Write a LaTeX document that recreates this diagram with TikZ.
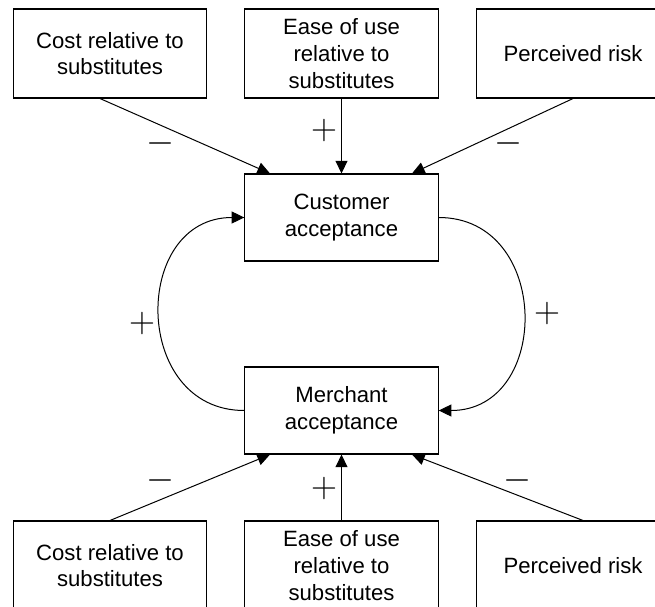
\documentclass[tikz,border=0pt]{standalone}
\usepackage{fix-cm}
\usepackage{fontspec}
\setmainfont{Liberation Sans}
\usetikzlibrary{arrows.meta,calc}
\begin{document}
\begin{tikzpicture}[x=0.75pt,y=-0.75pt,
  box/.style={draw,line width=0.8pt,minimum width=145pt,minimum height=66.75pt,
    align=center,inner sep=0pt,font=\fontsize{16.6}{20}\selectfont},
  midbox/.style={box,minimum height=65.25pt},
  link/.style={line width=0.75pt,-{Triangle[length=9.5pt,width=9pt]}},
  sign/.style={font=\fontsize{27}{27}\selectfont,inner sep=0pt}]
\clip (0,0) rectangle (655,606);
% top row
\node[box] (tl) at (110,53.5) {Cost relative to\\substitutes};
\node[box] (tm) at (341.5,53.5) {Ease of use\\relative to\\substitutes};
\node[box] (tr) at (573,53.5) {Perceived risk};
% middle
\node[midbox] (cust) at (341.5,217.5) {Customer\\acceptance};
\node[midbox] (merch) at (341.5,410.5) {Merchant\\acceptance};
% bottom row
\node[box] (bl) at (110,565.5) {Cost relative to\\substitutes};
\node[box] (bm) at (341.5,565.5) {Ease of use\\relative to\\substitutes};
\node[box] (br) at (573,565.5) {Perceived risk};
% top connectors
\draw[link] ($(tl.south)+(-10,0)$) -- ($(cust.north)+(-71.5,0)$);
\draw[link] (tm.south) -- (cust.north);
\draw[link] (tr.south) -- ($(cust.north)+(70.5,0)$);
% bottom connectors
\draw[link] (bl.north) -- ($(merch.south)+(-71.5,0)$);
\draw[link] (bm.north) -- (merch.south);
\draw[link] ($(br.north)+(10,0)$) -- ($(merch.south)+(70.5,0)$);
% loop
\draw[link] (merch.west) .. controls +(-113,0) and +(-113,0) .. (cust.west);
\draw[link] (cust.east) .. controls +(113,0) and +(113,0) .. (merch.east);
% signs
\node[sign] (s1) at (160,143) {$-$};
\node[sign] (s2) at (324,131) {$+$};
\node[sign] (s3) at (508,143) {$-$};
\node[sign] (s4) at (142,323) {$+$};
\node[sign] (s5) at (547,313) {$+$};
\node[sign] (s6) at (160,480) {$-$};
\node[sign] (s7) at (324,488) {$+$};
\node[sign] (s8) at (517,480) {$-$};
\end{tikzpicture}
\end{document}
